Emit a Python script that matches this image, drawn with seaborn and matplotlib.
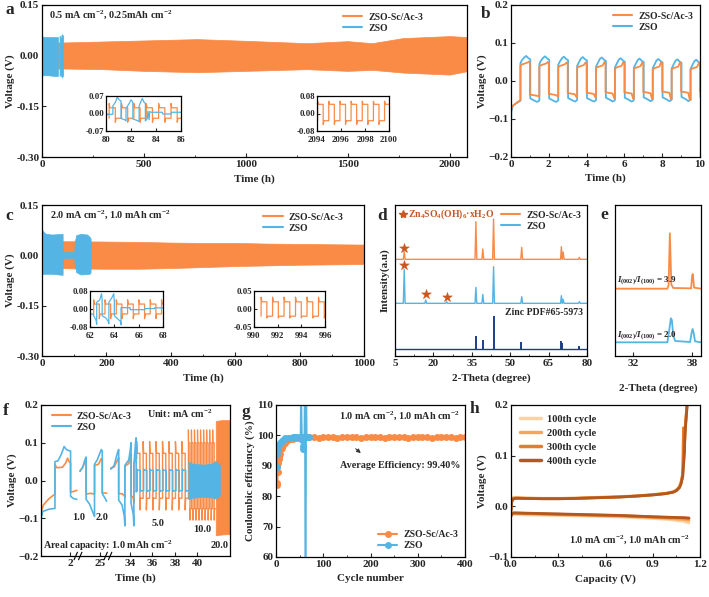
import matplotlib
matplotlib.use('Agg')
import numpy as np
import seaborn as sns
from matplotlib import pyplot as plt
from matplotlib.lines import Line2D
from matplotlib.ticker import AutoMinorLocator, FormatStrFormatter
from matplotlib.transforms import blended_transform_factory

ORANGE = '#F98B47'
BLUE = '#54B5E4'
NAVY = '#1E3C8A'
STAR = '#C9561E'
H_COLORS = ['#FBD2A6', '#F7A659', '#E67C2D', '#B3591F']
LABELS = ['ZSO-Sc/Ac-3', 'ZSO']

# ---- a: 0.5 mA cm-2 cycling (envelope of the dense voltage band)
a_time_org = [0, 100, 300, 500, 760, 1000, 1300, 1500, 1620, 1770, 2000, 2085]
a_hi_org = [0.040, 0.039, 0.042, 0.045, 0.049, 0.044, 0.037, 0.043, 0.037, 0.052, 0.058, 0.055]
a_lo_org = [-0.038, -0.038, -0.040, -0.045, -0.049, -0.045, -0.040, -0.045, -0.042, -0.050, -0.056, -0.046]
a_time_zso = [0, 3, 30, 60, 78, 78, 86, 86, 92, 97, 100, 104]
a_hi_zso = [0.062, 0.056, 0.055, 0.055, 0.055, 0.0, 0.0, 0.060, 0.050, 0.064, 0.060, 0.060]
a_lo_zso = [-0.062, -0.058, -0.058, -0.060, -0.060, 0.0, 0.0, -0.060, -0.055, -0.065, -0.060, -0.060]

# inset a1 (80-86 h) and a2 (2094-2100 h)
a1_zso_t = [80.0, 80.55, 80.55, 80.75, 80.9, 81.05, 81.2, 81.2, 81.5, 81.6, 81.6, 81.85, 82.0, 82.15,
            82.15, 82.5, 82.65, 82.65, 82.9, 83.05, 83.15, 83.15, 83.3, 83.35, 83.45, 83.5, 83.6,
            84.5, 84.55, 85.2, 85.25, 86.0]
a1_zso_v = [-0.003, -0.003, 0.03, 0.045, 0.065, 0.055, 0.05, -0.02, -0.025, -0.03, 0.02, 0.04, 0.055, 0.045,
            -0.022, -0.028, -0.032, 0.03, 0.06, 0.045, 0.04, -0.03, -0.02, 0.01, -0.025, 0.008, 0.005,
            0.005, -0.002, -0.002, 0.005, 0.005]
a1_org = dict(t0=80.25, period=0.99, n=6, hi=0.023, lo=-0.019, hi_pk=0.040, lo_pk=-0.035, v0=-0.019)
a2_org = dict(t0=2094.05, period=0.93, n=7, hi=0.042, lo=-0.033, hi_pk=0.056, lo_pk=-0.050, v0=-0.033)

# ---- b: first 10 h at 0.5 mA cm-2 (levels per cycle)
b_up = [0.5, 1.5, 2.5, 3.5, 4.5, 5.5, 6.5, 7.5, 8.5, 9.5]
b_org_start = ([0, 0.02, 0.1, 0.3, 0.5], [-0.09, -0.07, -0.065, -0.057, -0.05])
b_zso_start = ([0, 0.02, 0.1, 0.3, 0.5], [-0.13, -0.08, -0.065, -0.058, -0.052])
b_org_pos = [0.040, 0.038, 0.036, 0.034, 0.033, 0.032, 0.031, 0.030, 0.030, 0.029]
b_org_peak = [0.051, 0.050, 0.049, 0.049, 0.050, 0.050, 0.049, 0.050, 0.050, 0.048]
b_org_neg = [-0.036, -0.034, -0.032, -0.031, -0.030, -0.030, -0.029, -0.028, -0.028, -0.028]
b_org_end = [-0.040, -0.040, -0.042, -0.043, -0.045, -0.046, -0.047, -0.048, -0.050, -0.050]
b_zso_pos = [0.047, 0.045, 0.043, 0.040, 0.038, 0.036, 0.035, 0.034, 0.033, 0.032]
b_zso_peak = [0.066, 0.065, 0.064, 0.063, 0.062, 0.060, 0.059, 0.058, 0.057, 0.056]
b_zso_neg = [-0.046, -0.046, -0.045, -0.045, -0.044, -0.044, -0.043, -0.043, -0.042, -0.042]
b_zso_end = [-0.055, -0.055, -0.054, -0.054, -0.054, -0.054, -0.053, -0.053, -0.053, -0.053]

# ---- c: 2.0 mA cm-2 cycling
c_time_org = [0, 60, 100, 200, 300, 400, 500, 600, 700, 800, 900, 1000]
c_hi_org = [0.042, 0.042, 0.042, 0.041, 0.040, 0.038, 0.037, 0.037, 0.035, 0.034, 0.033, 0.032]
c_lo_org = [-0.038, -0.038, -0.039, -0.040, -0.040, -0.038, -0.035, -0.032, -0.030, -0.028, -0.027, -0.026]
c_time_zso = [0, 1, 10, 30, 62, 64, 64.5, 100, 102, 106, 120, 140, 148, 151]
c_hi_zso = [0.083, 0.075, 0.065, 0.062, 0.064, 0.064, 0.010, 0.010, 0.040, 0.060, 0.064, 0.062, 0.055, 0.050]
c_lo_zso = [-0.060, -0.056, -0.055, -0.055, -0.058, -0.058, -0.008, -0.008, -0.030, -0.050, -0.057, -0.056, -0.055, -0.050]
c1_zso_t = [62.0, 62.3, 62.3, 62.5, 62.55, 62.55, 62.8, 62.95, 63.0, 63.0, 63.3, 63.5, 63.55, 63.55,
            63.8, 63.95, 64.0, 64.0, 64.3, 64.5, 64.55, 64.55, 65.3, 65.3, 66.5, 66.5, 67.3, 67.3, 68.0]
c1_zso_v = [-0.02, -0.025, -0.03, -0.05, -0.068, 0.03, 0.04, 0.068, 0.04, -0.03, -0.04, -0.055, -0.065, 0.03,
            0.05, 0.068, 0.035, -0.03, -0.045, -0.055, -0.07, 0.006, 0.006, -0.003, -0.003, 0.002, 0.002, 0.005, 0.005]
c1_org = dict(t0=62.3, period=0.93, n=7, hi=0.022, lo=-0.022, hi_pk=0.041, lo_pk=-0.043, v0=-0.022)
c2_org = dict(t0=990.6, period=0.97, n=6, hi=0.020, lo=-0.020, hi_pk=0.033, lo_pk=-0.025, v0=-0.020)

# ---- d: XRD (2-theta, relative heights)
d_pos = [8.6, 17.0, 25.2, 36.6, 39.3, 43.5, 54.5, 70.0, 70.7, 77.0]
d_org_h = [23, 0, 0, 113, 31, 121, 36, 38, 22, 6]
d_zso_h = [102, 10, 5, 48, 27, 110, 20, 23, 12, 5]
d_pdf_pos = [36.5, 39.3, 43.5, 54.3, 69.7, 70.3, 76.9]
d_pdf_h = [40, 27, 100, 20, 24, 17, 9]
d_base = {'org': 290, 'zso': 158, 'pdf': 21}
d_star_x = [8.6, 8.6, 17.0, 25.2]
d_star_y = [325, 273, 185, 178]

# ---- e: zoom of (002)/(100)
e_org_x = [30.2, 35.5, 35.62, 35.75, 35.9, 36.1, 37.9, 38.0, 38.07, 38.2, 38.9]
e_org_y = [202, 202, 212, 368, 214, 204, 203, 240, 246, 205, 202]
e_zso_x = [30.2, 35.5, 35.7, 35.85, 35.95, 36.1, 36.3, 37.8, 37.95, 38.05, 38.15, 38.3, 38.9]
e_zso_y = [41, 41, 80, 113, 108, 60, 45, 42, 70, 81, 70, 44, 41]

# ---- f: rate test, positions along the broken time axis
f_tick_pos = [28.67, 31.33, 34, 36, 38, 40]
f_tick_lab = ['2', '25', '34', '36', '38', '40']
f_breaks = [29.38, 32.04]
fA_org_x = [26.09, 26.3, 26.8, 27.33, 27.33, 27.5, 28.0, 28.3, 28.45, 28.6, 28.72, 28.72, 29.0, 29.28]
fA_org_v = [-0.085, -0.065, -0.048, -0.036, 0.042, 0.034, 0.035, 0.047, 0.059, 0.05, 0.046, -0.031, -0.029, -0.026]
fA_zso_x = [26.09, 26.1, 26.25, 26.8, 27.33, 27.33, 27.6, 27.9, 28.15, 28.35, 28.6, 28.72, 28.72, 29.0, 29.28]
fA_zso_v = [-0.2, -0.1, -0.082, -0.076, -0.074, 0.05, 0.052, 0.07, 0.09, 0.082, 0.079, 0.078, -0.042, -0.048, -0.05]
fB_org_x = [29.56, 29.8, 30.0, 30.1, 30.1, 30.5, 30.85, 30.85, 31.2, 31.45, 31.54, 31.54, 31.93]
fB_org_v = [0.026, 0.035, 0.05, 0.056, -0.036, -0.034, -0.036, 0.040, 0.043, 0.058, 0.055, -0.032, -0.034]
fB_zso_x = [29.56, 29.8, 30.0, 30.1, 30.1, 30.4, 30.78, 30.85, 30.85, 31.1, 31.45, 31.54, 31.54, 31.75, 31.93]
fB_zso_v = [0.024, 0.035, 0.055, 0.062, -0.05, -0.062, -0.09, -0.095, 0.043, 0.055, 0.082, 0.078, -0.035, -0.045, -0.055]
fC_org_x = [32.3, 32.6, 32.9, 33.0, 33.0, 33.3, 33.5, 33.55, 33.55, 33.9, 34.05, 34.1, 34.1, 34.3, 34.35, 34.35, 34.6]
fC_org_v = [0.033, 0.036, 0.055, 0.06, -0.035, -0.035, -0.04, -0.045, 0.038, 0.045, 0.065, 0.07, -0.04, -0.045, -0.06, 0.045, 0.06]
fC_zso_x = [32.3, 32.6, 32.9, 33.0, 33.0, 33.3, 33.5, 33.55, 33.55, 33.9, 34.05, 34.1, 34.1, 34.3, 34.35, 34.35,
            34.5, 34.55, 34.55, 34.65]
fC_zso_v = [0.03, 0.04, 0.075, 0.082, -0.052, -0.065, -0.095, -0.12, 0.04, 0.055, 0.085, 0.1, -0.06, -0.09, -0.12, 0.04,
            0.1, 0.113, -0.03, -0.027]
f5_org = dict(t0=34.6, period=0.575, n=8, hi=0.072, lo=-0.047, hi_pk=0.103, lo_pk=-0.078, v0=0.06)
f5_zso = dict(t0=34.65, period=0.575, n=8, hi=0.027, lo=-0.027, hi_pk=0.030, lo_pk=-0.030, v0=-0.027)
f10_org = dict(t0=39.2, period=0.27, n=9, hi=0.100, lo=-0.075, hi_pk=0.134, lo_pk=-0.105, v0=-0.047)
f20_x = [41.63, 42.2, 42.9]
f20_hi = [0.158, 0.160, 0.160]
f20_lo = [-0.145, -0.143, -0.142]
f10_zso_x = [39.2, 39.5, 40.5, 41.3, 41.6, 42.0]
f10_zso_hi = [0.050, 0.045, 0.042, 0.045, 0.052, 0.040]
f10_zso_lo = [-0.050, -0.046, -0.043, -0.045, -0.048, -0.040]
f_rates = [('1.0', 29.4, -0.097), ('2.0', 31.55, -0.097), ('5.0', 36.5, -0.113), ('10.0', 40.4, -0.131), ('20.0', 42.0, -0.171)]

# ---- g: coulombic efficiency
g_cyc_org = [1, 2, 3, 4, 5, 6, 7, 8, 10, 12, 15, 18, 20, 25, 30, 35, 40, 45, 50, 55, 60,
             70, 80, 90, 100, 110, 120, 130, 140, 150, 160, 170, 180, 190, 200, 210, 220, 230,
             240, 250, 260, 270, 280, 290, 300, 310, 320, 330, 340, 350, 360, 370, 380, 390, 400]
g_ce_org = [88.0, 84.5, 83.7, 88.0, 91.0, 92.2, 93.0, 94.0, 95.5, 96.0, 97.0, 97.6, 98.0, 98.4, 98.7, 98.9,
            99.0, 99.1, 99.2, 99.3, 99.3,
            99.4, 99.5, 99.3, 99.4, 99.5, 99.4, 99.3, 99.4, 99.5, 99.4, 99.4, 99.3, 99.5, 99.4, 99.4, 99.5,
            99.3, 99.4, 99.4, 99.5, 99.4, 99.3, 99.4, 99.5, 99.4, 99.4, 99.3, 99.5, 99.4, 99.4, 99.5, 99.3,
            99.4, 99.4]
g_cyc_zso = [2, 3, 4, 5, 6, 8, 10, 12, 15, 18, 20, 25, 30, 35, 40, 45, 50, 52, 53, 55, 57, 58, 59, 60, 61,
             62, 63, 64, 65, 67, 69]
g_ce_zso = [89.5, 94.0, 95.5, 96.3, 96.8, 97.4, 97.8, 98.2, 98.6, 98.9, 99.0, 99.2, 99.3, 99.4, 99.5, 99.5,
            99.6, 99.6, 118.0, 98.5, 96.4, 95.6, 99.5, 99.4, 118.0, 55.0, 55.0, 118.0, 99.5, 99.5, 99.6]

# ---- h: voltage profiles of selected cycles
h_cycles = ['100th cycle', '200th cycle', '300th cycle', '400th cycle']
h_cap_chg = [0.0, 0.004, 0.012, 0.03, 0.1, 0.2, 0.3, 0.4, 0.5, 0.6, 0.7, 0.8, 0.9, 0.98, 1.03, 1.05, 1.07,
             1.08, 1.09, 1.095, 1.1, 1.105, 1.11, 1.115, 1.12]
h_chg = [
    [0.0, 0.012, 0.018, 0.018, 0.017, 0.016, 0.016, 0.0165, 0.0175, 0.0185, 0.0195, 0.021, 0.0235, 0.026, 0.029,
     0.033, 0.040, 0.050, 0.065, 0.090, 0.115, 0.155, 0.175, 0.195, 0.210],
    [-0.005, 0.010, 0.016, 0.017, 0.016, 0.0155, 0.0155, 0.016, 0.017, 0.018, 0.019, 0.0205, 0.023, 0.0255,
     0.0285, 0.032, 0.038, 0.046, 0.060, 0.085, 0.110, 0.150, 0.170, 0.190, 0.210],
    [-0.008, 0.009, 0.015, 0.016, 0.0155, 0.015, 0.015, 0.0155, 0.0165, 0.0175, 0.0185, 0.020, 0.0225, 0.025,
     0.028, 0.031, 0.038, 0.047, 0.065, 0.155, 0.105, 0.150, 0.170, 0.190, 0.210],
    [-0.010, 0.008, 0.014, 0.016, 0.0155, 0.015, 0.015, 0.0155, 0.0165, 0.0175, 0.0185, 0.0205, 0.0225, 0.025,
     0.028, 0.031, 0.037, 0.045, 0.058, 0.080, 0.100, 0.144, 0.165, 0.185, 0.205],
]
h_cap_dis = [0.0, 0.005, 0.02, 0.1, 0.3, 0.5, 0.7, 0.9, 1.0, 1.1, 1.13]
h_dis = [
    [-0.016, -0.016, -0.016, -0.017, -0.018, -0.0195, -0.021, -0.024, -0.026, -0.030, -0.033],
    [-0.016, -0.015, -0.014, -0.015, -0.0165, -0.018, -0.0195, -0.022, -0.024, -0.026, -0.028],
    [-0.018, -0.014, -0.013, -0.014, -0.0155, -0.017, -0.0185, -0.021, -0.022, -0.023, -0.024],
    [-0.020, -0.014, -0.013, -0.0135, -0.015, -0.0165, -0.018, -0.0205, -0.0215, -0.0225, -0.023],
]

sns.set_theme(style='ticks')
plt.rcParams.update({
    'font.family': ['Liberation Serif', 'DejaVu Sans'],
    'font.weight': 'bold',
    'axes.labelweight': 'bold',
    'axes.labelsize': 8,
    'mathtext.fontset': 'custom',
    'mathtext.default': 'regular',
    'mathtext.rm': 'Liberation Serif:bold',
    'mathtext.it': 'Liberation Serif:italic:bold',
    'mathtext.bf': 'Liberation Serif:bold',
})

W, H = 709, 597


def box(l, t, r, b):
    return [l / W, 1 - b / H, (r - l) / W, (b - t) / H]


def draw(ax, x, y, color, lw=1.0, **kw):
    sns.lineplot(x=np.asarray(x, dtype=float), y=np.asarray(y, dtype=float), ax=ax, color=color,
                 linewidth=lw, sort=False, estimator=None, legend=False, **kw)


def square_wave(t0, period, n, hi, lo, hi_pk, lo_pk, v0):
    # charge/discharge steps with the overshoot read at the start of every half cycle
    t, v = [t0], [v0]
    for k in range(n):
        a = t0 + k * period
        m = a + period / 2
        t += [a, a + 0.07 * period, m, m, m + 0.07 * period, a + period]
        v += [hi_pk, hi, hi, lo_pk, lo, lo]
    return t, v


def b_trace(start, ups, pos, peak, neg, end, kind):
    t, v = list(start[0]), list(start[1])
    for k, u in enumerate(ups):
        if kind == 'org':
            t += [u, u + 0.05, u + 0.35, u + 0.45, u + 0.5, u + 0.5, u + 0.55, u + 0.88, u + 0.96, u + 1.0]
            v += [pos[k], pos[k] + 0.003, pos[k] + 0.008, peak[k], peak[k] - 0.004,
                  neg[k], neg[k], neg[k] - 0.003, end[k], end[k]]
        else:
            t += [u, u + 0.08, u + 0.2, u + 0.3, u + 0.42, u + 0.52, u + 0.52, u + 0.6, u + 0.75, u + 0.88,
                  u + 0.96, u + 1.0]
            v += [pos[k], pos[k] + 0.008, peak[k] - 0.004, peak[k], peak[k] - 0.006, peak[k] - 0.009,
                  neg[k], neg[k] - 0.002, neg[k] - 0.006, end[k], end[k] + 0.002, end[k] + 0.004]
    return t, v


def xrd_trace(pos, heights, base, width=0.35, lo=5, hi=80):
    x, y = [lo], [base]
    for p, h in zip(pos, heights):
        x += [p - width, p, p + width]
        y += [base, base + h, base]
    x.append(hi)
    y.append(base)
    return x, y


def style(ax, fs=8, minor=True, length=3):
    ax.tick_params(direction='in', labelsize=fs, width=0.8, length=length, pad=2)
    ax.tick_params(which='minor', direction='in', width=0.6, length=length * 0.6)
    for s in ax.spines.values():
        s.set_linewidth(0.9)
        s.set_color('black')
    if minor:
        ax.xaxis.set_minor_locator(AutoMinorLocator(2))


def put_legend(ax, labels, colors, lw=1.5, marker=None, fs=7, **kw):
    handles = [Line2D([], [], color=c, lw=lw, marker=marker, markersize=5, markeredgewidth=0) for c in colors]
    opts = dict(frameon=False, fontsize=fs, handlelength=2.0, handletextpad=0.6, labelspacing=0.2,
                borderaxespad=0.4)
    opts.update(kw)
    ax.legend(handles, labels, **opts)


def inset(rect, cfg, xlim, ylim, xticks, yticks, extra=None):
    ax = fig.add_axes(box(*rect))
    t, v = square_wave(**cfg)
    draw(ax, t, v, ORANGE, lw=0.9)
    if extra is not None:
        draw(ax, extra[0], extra[1], BLUE, lw=0.9)
    ax.set(xlim=xlim, ylim=ylim, xlabel='', ylabel='')
    ax.set_xticks(xticks)
    ax.set_yticks(yticks)
    ax.yaxis.set_major_formatter(FormatStrFormatter('%.2f'))
    style(ax, fs=6.3, minor=False, length=2)
    ax.tick_params(axis='y', pad=1.5)
    ax.tick_params(axis='x', pad=3.5)
    return ax


fig = plt.figure(figsize=(7.09, 5.97), dpi=100)

# ---------- a
ax = fig.add_axes(box(42, 5, 467, 157))
ax.fill_between(a_time_org, a_lo_org, a_hi_org, color=ORANGE, lw=0.5)
ax.fill_between(a_time_zso, a_lo_zso, a_hi_zso, color=BLUE, lw=0.5)
ax.set(xlim=(0, 2085), ylim=(-0.30, 0.15))
ax.set_xticks([0, 500, 1000, 1500, 2000])
ax.set_yticks([-0.30, -0.15, 0.00, 0.15])
ax.yaxis.set_major_formatter(FormatStrFormatter('%.2f'))
ax.set_xlabel('Time (h)', labelpad=4)
ax.set_ylabel('Voltage (V)', labelpad=1)
style(ax)
ax.text(0.016, 0.934, '0.5 mA cm$^{-2}$, 0.25mAh cm$^{-2}$', transform=ax.transAxes, fontsize=7.3,
        va='center', fontweight='bold')
put_legend(ax, LABELS, [ORANGE, BLUE], loc='upper right', bbox_to_anchor=(0.915, 1.0))
inset((106, 96, 181, 131), a1_org, (80, 86), (-0.07, 0.07), [80, 82, 84, 86], [-0.07, 0, 0.07],
      extra=(a1_zso_t, a1_zso_v))
inset((317, 96, 389, 131), a2_org, (2094, 2100), (-0.08, 0.08), [2094, 2096, 2098, 2100], [-0.08, 0, 0.08])

# ---------- b
ax = fig.add_axes(box(511, 5, 700, 157))
draw(ax, *b_trace(b_zso_start, b_up, b_zso_pos, b_zso_peak, b_zso_neg, b_zso_end, 'zso'), BLUE, lw=1.3)
draw(ax, *b_trace(b_org_start, b_up, b_org_pos, b_org_peak, b_org_neg, b_org_end, 'org'), ORANGE, lw=1.3)
ax.set(xlim=(0, 10), ylim=(-0.2, 0.2))
ax.set_xticks(range(0, 11, 2))
ax.set_yticks([-0.2, -0.1, 0.0, 0.1, 0.2])
ax.set_xlabel('Time (h)', labelpad=3)
ax.set_ylabel('Voltage (V)', labelpad=1)
style(ax)
put_legend(ax, LABELS, [ORANGE, BLUE], loc='upper right', borderaxespad=0.3)

# ---------- c
ax = fig.add_axes(box(42, 205, 364, 356))
ax.fill_between(c_time_org, c_lo_org, c_hi_org, color=ORANGE, lw=0.5)
ax.fill_between(c_time_zso, c_lo_zso, c_hi_zso, color=BLUE, lw=0.5)
ax.set(xlim=(0, 1000), ylim=(-0.30, 0.15))
ax.set_xticks(range(0, 1001, 200))
ax.set_yticks([-0.30, -0.15, 0.00, 0.15])
ax.yaxis.set_major_formatter(FormatStrFormatter('%.2f'))
ax.set_xlabel('Time (h)', labelpad=4)
ax.set_ylabel('Voltage (V)', labelpad=1)
style(ax)
ax.text(0.025, 0.934, '2.0 mA cm$^{-2}$, 1.0 mAh cm$^{-2}$', transform=ax.transAxes, fontsize=7.3,
        va='center', fontweight='bold')
put_legend(ax, LABELS, [ORANGE, BLUE], loc='upper right', bbox_to_anchor=(0.96, 1.0))
inset((90, 291, 163, 327), c1_org, (62, 68), (-0.08, 0.08), [62, 64, 66, 68], [-0.08, 0, 0.08],
      extra=(c1_zso_t, c1_zso_v))
inset((254, 291, 325, 327), c2_org, (990, 996), (-0.05, 0.05), [990, 992, 994, 996], [-0.05, 0, 0.05])

# ---------- d
ax = fig.add_axes(box(395, 205, 587, 356))
draw(ax, *xrd_trace(d_pos, d_org_h, d_base['org']), ORANGE, lw=1.0)
draw(ax, *xrd_trace(d_pos, d_zso_h, d_base['zso']), BLUE, lw=1.0)
ax.axhline(d_base['pdf'], color=NAVY, lw=1.0)
ax.vlines(d_pdf_pos, d_base['pdf'], np.add(d_pdf_h, d_base['pdf']), color=NAVY, lw=1.4)
sns.scatterplot(x=d_star_x, y=d_star_y, ax=ax, marker='*', s=55, color=STAR, edgecolor=STAR, linewidth=0.3,
                legend=False, zorder=5)
ax.plot([8.0], [426], marker='*', ms=6, color=STAR, ls='none')
ax.text(10.2, 426, r'Zn$_4$SO$_4$(OH)$_6$·xH$_2$O', color=STAR, fontsize=7, va='center', fontweight='bold')
ax.text(78.4, 131, 'Zinc PDF#65-5973', fontsize=7, ha='right', va='center', fontweight='bold')
ax.set(xlim=(5, 80), ylim=(0, 453))
ax.set_xticks([5, 20, 35, 50, 65, 80])
ax.set_yticks([])
ax.set_xlabel('2-Theta (degree)', labelpad=4)
ax.set_ylabel('Intensity(a.u)', labelpad=4)
style(ax)
put_legend(ax, LABELS, [ORANGE, BLUE], loc='upper right', borderaxespad=0.2)

# ---------- e
ax = fig.add_axes(box(615, 205, 701, 356))
draw(ax, e_org_x, e_org_y, ORANGE, lw=1.3)
draw(ax, e_zso_x, e_zso_y, BLUE, lw=1.3)
ax.text(30.37, 225, r'$\mathit{I}_{(002)}/\mathit{I}_{(100)}$ = 3.9', fontsize=6.5, va='center', fontweight='bold')
ax.text(30.37, 60, r'$\mathit{I}_{(002)}/\mathit{I}_{(100)}$ = 2.0', fontsize=6.5, va='center', fontweight='bold')
ax.set(xlim=(30.2, 38.9), ylim=(0, 453))
ax.set_xticks([32, 38])
ax.set_yticks([])
ax.set_xlabel('2-Theta (degree)', labelpad=11)
style(ax, minor=False)

# ---------- f
ax = fig.add_axes(box(41, 405, 230, 556))
ax.fill_between(f20_x, f20_lo, f20_hi, color=ORANGE, lw=0.5)
for xs, vs in [(fA_org_x, fA_org_v), (fB_org_x, fB_org_v), (fC_org_x, fC_org_v)]:
    draw(ax, xs, vs, ORANGE, lw=1.2)
draw(ax, *square_wave(**f5_org), ORANGE, lw=1.0)
draw(ax, *square_wave(**f10_org), ORANGE, lw=0.9)
for xs, vs in [(fA_zso_x, fA_zso_v), (fB_zso_x, fB_zso_v), (fC_zso_x, fC_zso_v)]:
    draw(ax, xs, vs, BLUE, lw=1.2)
draw(ax, *square_wave(**f5_zso), BLUE, lw=1.0)
ax.fill_between(f10_zso_x, f10_zso_lo, f10_zso_hi, color=BLUE, lw=0.5, zorder=3)
for lab, xx, yy in f_rates:
    ax.text(xx, yy, lab, fontsize=7.5, ha='center', va='center', fontweight='bold')
# axis-break marks "//" on the bottom spine
tr = blended_transform_factory(ax.transData, ax.transAxes)
for xb in f_breaks:
    for dx in (-0.2, 0.2):
        ax.plot([xb + dx - 0.15, xb + dx + 0.15], [-0.025, 0.025], transform=tr, color='black',
                lw=0.8, clip_on=False)
ax.text(35.5, 0.176, 'Unit: mA cm$^{-2}$', fontsize=7.3, va='center', fontweight='bold')
ax.text(26.27, -0.174, 'Areal capacity: 1.0 mAh cm$^{-2}$', fontsize=7.3, va='center', fontweight='bold')
ax.set(xlim=(26.09, 42.9), ylim=(-0.2, 0.2))
ax.set_xticks(f_tick_pos)
ax.set_xticklabels(f_tick_lab)
ax.set_yticks([-0.2, -0.1, 0.0, 0.1, 0.2])
ax.set_xlabel('Time (h)', labelpad=4)
ax.set_ylabel('Voltage (V)', labelpad=1)
style(ax, minor=False)
put_legend(ax, LABELS, [ORANGE, BLUE], loc='upper left', borderaxespad=0.3, bbox_to_anchor=(0.02, 1.0))

# ---------- g
ax = fig.add_axes(box(276, 405, 465, 557))
draw(ax, g_cyc_org, g_ce_org, ORANGE, lw=1.2, marker='o', markersize=5, markeredgewidth=0)
draw(ax, g_cyc_zso, g_ce_zso, BLUE, lw=1.2, marker='o', markersize=5, markeredgewidth=0)
ax.text(0.974, 0.928, '1.0 mA cm$^{-2}$, 1.0 mAh cm$^{-2}$', transform=ax.transAxes, fontsize=7.3,
        ha='right', va='center', fontweight='bold')
ax.text(0.974, 0.60, 'Average Efficiency: 99.40%', transform=ax.transAxes, fontsize=7.3,
        ha='right', va='center', fontweight='bold')
ax.annotate('', xy=(184, 93.6), xytext=(164, 96.2),
            arrowprops=dict(arrowstyle='-|>', color='#333333', lw=0.7, mutation_scale=6))
ax.set(xlim=(0, 400), ylim=(60, 110))
ax.set_xticks(range(0, 401, 100))
ax.set_yticks(range(60, 111, 10))
ax.set_xlabel('Cycle number', labelpad=4)
ax.set_ylabel('Coulombic efficiency (%)', labelpad=1)
style(ax)
put_legend(ax, LABELS, [ORANGE, BLUE], marker='o', loc='lower right', borderaxespad=0.3)

# ---------- h
ax = fig.add_axes(box(511, 405, 700, 557))
for chg, dis, col in zip(h_chg, h_dis, H_COLORS):
    draw(ax, h_cap_chg, chg, col, lw=2.0)
    draw(ax, h_cap_dis, dis, col, lw=2.0)
ax.text(0.947, 0.112, '1.0 mA cm$^{-2}$, 1.0 mAh cm$^{-2}$', transform=ax.transAxes, fontsize=7.3,
        ha='right', va='center', fontweight='bold')
ax.set(xlim=(0, 1.2), ylim=(-0.1, 0.2))
ax.set_xticks([0.0, 0.3, 0.6, 0.9, 1.2])
ax.set_yticks([-0.1, 0.0, 0.1, 0.2])
ax.xaxis.set_major_formatter(FormatStrFormatter('%.1f'))
ax.set_xlabel('Capacity (V)', labelpad=4)
ax.set_ylabel('Voltage (V)', labelpad=1)
style(ax)
put_legend(ax, h_cycles, H_COLORS, lw=2.5, fs=7.5, loc='upper left', labelspacing=0.45, borderaxespad=0.5)

# panel letters
for lab, x, y in [('a', 5, 13.5), ('b', 481, 18.3), ('c', 5, 220), ('d', 377, 220), ('e', 600, 219.3),
                  ('f', 3, 415), ('g', 241, 416), ('h', 470, 413.3)]:
    fig.text(x / W, 1 - y / H, lab, fontsize=12.5, fontweight='bold', va='baseline', ha='left')

fig.savefig('out.png', dpi=100)
